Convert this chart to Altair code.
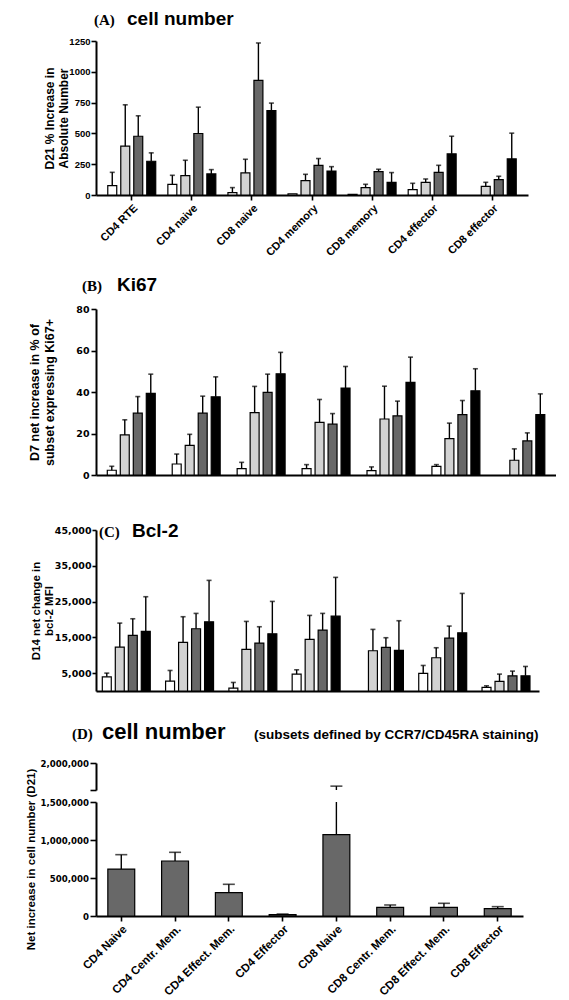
import altair as alt
import pandas as pd

# ---------------- data ----------------
SERIES = ["Group 1", "Group 2", "Group 3", "Group 4"]
SERIES_COLORS = ["#ffffff", "#d2d2d2", "#686868", "#000000"]

SUBSETS = ["CD4 RTE", "CD4 naive", "CD8 naive", "CD4 memory",
           "CD8 memory", "CD4 effector", "CD8 effector"]

# (A) cell number: D21 % increase in absolute number
a_g1 = [76, 87, 19, 10, 5, 43, 0]
a_g1_up = [184, 160, 60, 10, 5, 95, 0]
a_g2 = [396, 157, 179, 117, 60, 103, 70]
a_g2_up = [732, 282, 290, 168, 87, 130, 103]
a_g3 = [477, 499, 930, 241, 190, 184, 125]
a_g3_up = [643, 713, 1234, 296, 209, 241, 152]
a_g4 = [274, 171, 686, 195, 103, 334, 293]
a_g4_up = [342, 206, 746, 230, 182, 477, 502]

# (B) Ki67: D7 net increase in % of subset expressing Ki67+
b_g1 = [2.3, 5.3, 3.1, 3.1, 2.1, 4.2, 0]
b_g1_up = [4.2, 10.1, 6.1, 5.0, 3.9, 5.0, 0]
b_g2 = [19.3, 14.3, 30.1, 25.4, 27.0, 17.5, 7.1]
b_g2_up = [26.6, 19.6, 42.7, 36.4, 42.8, 25.0, 12.6]
b_g3 = [29.8, 29.8, 39.8, 24.5, 28.5, 29.1, 16.4]
b_g3_up = [37.8, 38.0, 48.6, 29.6, 35.6, 35.9, 20.3]
b_g4 = [39.3, 37.7, 48.8, 41.9, 44.6, 40.6, 29.1]
b_g4_up = [48.6, 47.3, 59.1, 52.3, 56.8, 51.2, 39.1]

# (C) Bcl-2: D14 net change in bcl-2 MFI
c_g1 = [3970, 2760, 800, 4720, 0, 4900, 990]
c_g1_up = [5000, 5740, 2390, 5930, 0, 7140, 1450]
c_g2 = [12270, 13580, 11620, 14420, 11250, 9290, 2670]
c_g2_up = [18980, 20760, 19450, 21130, 17220, 12090, 4720]
c_g3 = [15530, 17400, 13390, 17030, 12180, 14790, 4250]
c_g3_up = [20190, 21690, 17960, 21690, 14890, 18150, 5560]
c_g4 = [16650, 19360, 15990, 20940, 11340, 16280, 4250]
c_g4_up = [26350, 30920, 25040, 31760, 19640, 27280, 6860]

# (D) cell number, subsets defined by CCR7/CD45RA staining
D_SUBSETS = ["CD4 Naive", "CD4 Centr. Mem.", "CD4 Effect. Mem.", "CD4 Effector",
             "CD8 Naive", "CD8 Centr. Mem.", "CD8 Effect. Mem.", "CD8 Effector"]
d_mean = [618000, 724000, 307000, 17500, 1070000, 114000, 114000, 96500]
d_up = [807000, 838000, 417000, 26000, 1700000, 145000, 167000, 123000]

A_TICKS = [0, 250, 500, 750, 1000, 1250]
B_TICKS = [0, 20, 40, 60, 80]
C_TICKS = [5000, 15000, 25000, 35000, 45000]
D_TICKS = [0, 500000, 1000000, 1500000]
D_TOP_TICKS = [1650000, 2000000]


def long_df(cats, means, ups):
    rows = []
    for s, m_list, u_list in zip(SERIES, means, ups):
        for c, m, u in zip(cats, m_list, u_list):
            rows.append({"subset": c, "series": s, "mean": m, "upper": u})
    return pd.DataFrame(rows)


dfA = long_df(SUBSETS, [a_g1, a_g2, a_g3, a_g4], [a_g1_up, a_g2_up, a_g3_up, a_g4_up])
dfB = long_df(SUBSETS, [b_g1, b_g2, b_g3, b_g4], [b_g1_up, b_g2_up, b_g3_up, b_g4_up])
dfC = long_df(SUBSETS, [c_g1, c_g2, c_g3, c_g4], [c_g1_up, c_g2_up, c_g3_up, c_g4_up])
dfD = pd.DataFrame({"subset": D_SUBSETS, "mean": d_mean, "upper": d_up})

SANS = "Liberation Sans"
WIDE = "DejaVu Sans"
SERIF = "Liberation Serif"


def text_layer(txt, x, y, font, size):
    return alt.Chart(pd.DataFrame({"t": [txt]})).mark_text(
        align="left", baseline="alphabetic", font=font, fontSize=size,
        fontWeight="bold", color="black"
    ).encode(text="t:N", x=alt.value(x), y=alt.value(y))


def grouped_panel(df, width, height, domain, yaxis, xaxis, pi, po, opi, opo, cap):
    xenc = alt.X("subset:N", sort=SUBSETS, title=None,
                 scale=alt.Scale(paddingInner=pi, paddingOuter=po), axis=xaxis)
    xoff = alt.XOffset("series:N", sort=SERIES,
                       scale=alt.Scale(domain=SERIES, paddingInner=opi, paddingOuter=opo))
    yscale = alt.Scale(domain=domain, nice=False, zero=True)
    base = alt.Chart(df)
    bars = base.transform_filter("datum.mean > 0").mark_bar(
        stroke="black", strokeWidth=1.2
    ).encode(
        x=xenc, xOffset=xoff,
        y=alt.Y("mean:Q", scale=yscale, axis=yaxis, title=yaxis.title),
        fill=alt.Fill("series:N", scale=alt.Scale(domain=SERIES, range=SERIES_COLORS), legend=None),
    )
    rules = base.transform_filter("datum.upper > datum.mean").mark_rule(
        color="black", strokeWidth=1.4
    ).encode(x=xenc, xOffset=xoff,
             y=alt.Y("mean:Q", scale=yscale, axis=yaxis, title=yaxis.title), y2="upper:Q")
    caps = base.transform_filter("datum.upper > datum.mean").mark_tick(
        color="black", thickness=1.6, size=cap
    ).encode(x=xenc, xOffset=xoff,
             y=alt.Y("upper:Q", scale=yscale, axis=yaxis, title=yaxis.title))
    return alt.layer(bars, rules, caps).properties(width=width, height=height)


# ---------------- panel A ----------------
yA = alt.Axis(values=A_TICKS, format="d", title=["D21 % Increase in", "Absolute Number"],
              titleFont=SANS, titleFontSize=12, titleFontWeight="bold", titleLineHeight=14,
              titlePadding=1, labelFont=SANS, labelFontSize=9.5, labelFontWeight="bold",
              labelPadding=1, tickSize=5, minExtent=25, maxExtent=25, labelOverlap=False)
xA = alt.Axis(labelAngle=-45, labelFont=SANS, labelFontSize=11, labelFontWeight="bold",
              tickSize=5, labelPadding=2)
panelA = alt.layer(
    grouped_panel(dfA, 432, 154, [0, 1250], yA, xA, 0.15, 0.17, 0.31, 0.12, 5),
    text_layer("(A)", -2, -16, SERIF, 15),
    text_layer("cell number", 31, -16, SANS, 19),
)

# ---------------- panel B ----------------
yB = alt.Axis(values=B_TICKS, format="d", title=["D7 net increase in % of", "subset expressing Ki67+"],
              titleFont=SANS, titleFontSize=12.5, titleFontWeight="bold", titleLineHeight=15,
              titlePadding=20, labelFont=WIDE, labelFontSize=9.5, labelFontWeight="bold",
              labelPadding=2, tickSize=5, minExtent=20, maxExtent=20, labelOverlap=False)
xB = alt.Axis(labels=False, ticks=False)
panelB = alt.layer(
    grouped_panel(dfB, 460, 166, [0, 80], yB, xB, 0.215, 0.15, 0.31, 0.0, 5),
    text_layer("(B)", -14, -18, SERIF, 15),
    text_layer("Ki67", 21, -18, SANS, 19),
)

# ---------------- panel C ----------------
yC = alt.Axis(values=C_TICKS, format=",d", title=["D14 net change in", "bcl-2 MFI"],
              titleFont=SANS, titleFontSize=11.5, titleFontWeight="bold", titleLineHeight=13,
              titlePadding=1, labelFont=WIDE, labelFontSize=9.5, labelFontWeight="bold",
              labelPadding=1, tickSize=4, minExtent=41, maxExtent=41, labelOverlap=False)
xC = alt.Axis(labels=False, ticks=False)
panelC = alt.layer(
    grouped_panel(dfC, 443, 161, [0, 45000], yC, xC, 0.15, 0.075, 0.36, 0.0, 5),
    text_layer("(C)", 3, 7, SERIF, 15),
    text_layer("Bcl-2", 36, 7, SANS, 19),
)

# ---------------- panel D (broken axis) ----------------
xD = alt.X("subset:N", sort=D_SUBSETS, title=None,
           scale=alt.Scale(paddingInner=0.5, paddingOuter=0.22),
           axis=alt.Axis(labelAngle=-45, labelFont=SANS, labelFontSize=11.5,
                         labelFontWeight="bold", tickSize=5, labelPadding=2))
xDtop = alt.X("subset:N", sort=D_SUBSETS, title=None,
              scale=alt.Scale(paddingInner=0.5, paddingOuter=0.22), axis=None)

yDscale = alt.Scale(domain=[0, 1500000], nice=False)
D_TITLE = "Net increase in cell number (D21)"
yDaxis = alt.Axis(values=D_TICKS, format=",d", title=D_TITLE,
                  titleFont=SANS, titleFontSize=11.5, titleFontWeight="bold", titlePadding=4,
                  labelFont=WIDE, labelFontSize=8.6, labelFontWeight="bold", labelPadding=1.5,
                  tickSize=6, minExtent=56, maxExtent=56, labelOverlap=False)
baseD = alt.Chart(dfD)
d_bars = baseD.mark_bar(fill="#686868", stroke="black", strokeWidth=1.2).encode(
    x=xD, y=alt.Y("mean:Q", scale=yDscale, axis=yDaxis, title=D_TITLE))
d_rules = baseD.mark_rule(color="black", strokeWidth=1.4, clip=True).encode(
    x=xD, y=alt.Y("mean:Q", scale=yDscale, axis=yDaxis, title=D_TITLE), y2="upper:Q")
d_caps = baseD.mark_tick(color="black", thickness=1.6, size=12, clip=True).encode(
    x=xD, y=alt.Y("upper:Q", scale=yDscale, axis=yDaxis, title=D_TITLE))
panelDlow = alt.layer(d_bars, d_rules, d_caps).properties(width=427, height=114)

yDtopscale = alt.Scale(domain=[1650000, 2000000], nice=False, zero=False)
yDtopaxis = alt.Axis(values=D_TOP_TICKS, title=None,
                     labelExpr="datum.value >= 2000000 ? format(datum.value, ',d') : ''",
                     labelFont=WIDE, labelFontSize=8.6, labelFontWeight="bold", labelPadding=1.5,
                     tickSize=6, minExtent=56, maxExtent=56, labelOverlap=False)
dtop_rules = baseD.mark_rule(color="black", strokeWidth=1.4, clip=True).encode(
    x=xDtop, y=alt.Y("mean:Q", scale=yDtopscale, axis=yDtopaxis, title=None), y2="upper:Q")
dtop_caps = baseD.mark_tick(color="black", thickness=1.6, size=12, clip=True).encode(
    x=xDtop, y=alt.Y("upper:Q", scale=yDtopscale, axis=yDtopaxis, title=None))
panelDtop = alt.layer(
    dtop_rules, dtop_caps,
    text_layer("(D)", -24, -24, SERIF, 15),
    text_layer("cell number", 6, -24, SANS, 22),
    text_layer("(subsets defined by CCR7/CD45RA staining)", 158, -24, SANS, 13.5),
).properties(width=427, height=27)

panelD = alt.vconcat(panelDtop, panelDlow, spacing=12, bounds="flush")

CD = alt.vconcat(panelC, panelD, spacing=29)
BCD = alt.vconcat(panelB, CD, spacing=42)
chart = alt.vconcat(panelA, BCD, spacing=18).properties(
    padding={"left": 17, "top": 2, "right": 0, "bottom": 3}
).configure_view(stroke=None).configure_axis(
    grid=False, domainColor="black", domainWidth=2, tickColor="black", tickWidth=1.6,
    labelColor="black", titleColor="black"
)

chart.save("out.html", embed_options={"renderer": "svg", "actions": False})
